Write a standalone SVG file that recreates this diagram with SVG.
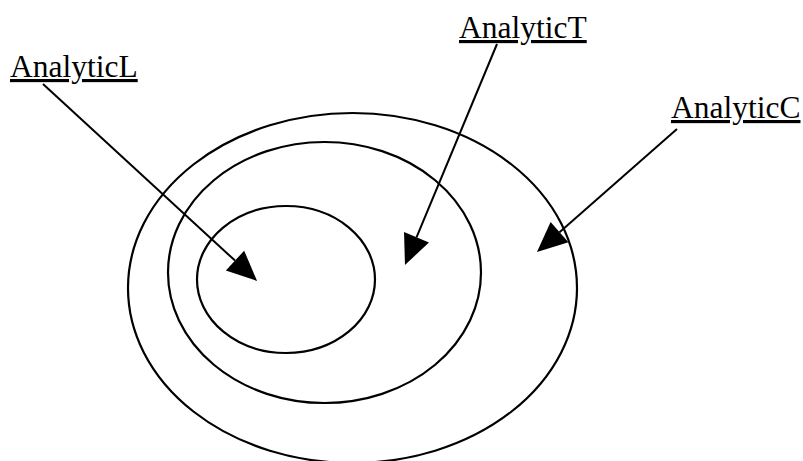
<svg xmlns="http://www.w3.org/2000/svg" width="803" height="461" viewBox="0 0 803 461">
<style>
.ring{fill:none;stroke:#000;stroke-width:2.2}
.conn{stroke:#000;stroke-width:2;fill:none}
.lbl{font-family:"Liberation Serif","Times New Roman",serif;font-size:31.5px;fill:#000;text-decoration:underline}
</style>
<defs>
<marker id="ah" markerUnits="userSpaceOnUse" markerWidth="32" markerHeight="28" refX="0" refY="13.5" orient="auto" overflow="visible">
<path d="M0,0 L30,13.5 L0,27 Z" fill="#000"/>
</marker>
</defs>
<rect width="803" height="461" fill="#fff"/>
<g id="analyticC-set"><ellipse class="ring" cx="352.5" cy="288" rx="224.5" ry="175"/></g>
<g id="analyticT-set"><ellipse class="ring" cx="324.5" cy="272.5" rx="156.5" ry="130.5"/></g>
<g id="analyticL-set"><ellipse class="ring" cx="286" cy="279.5" rx="89" ry="73.5"/></g>
<g id="label-L"><text class="lbl" x="10" y="77">AnalyticL</text></g>
<g id="label-T"><text class="lbl" x="459" y="38">AnalyticT</text></g>
<g id="label-C"><text class="lbl" x="671" y="118">AnalyticC</text></g>
<g id="connectors">
<line class="conn" x1="43" y1="84" x2="235" y2="260.6" marker-end="url(#ah)"/>
<line class="conn" x1="497" y1="44" x2="416.5" y2="237.3" marker-end="url(#ah)"/>
<line class="conn" x1="677" y1="129" x2="559.5" y2="232.2" marker-end="url(#ah)"/>
</g>
</svg>
